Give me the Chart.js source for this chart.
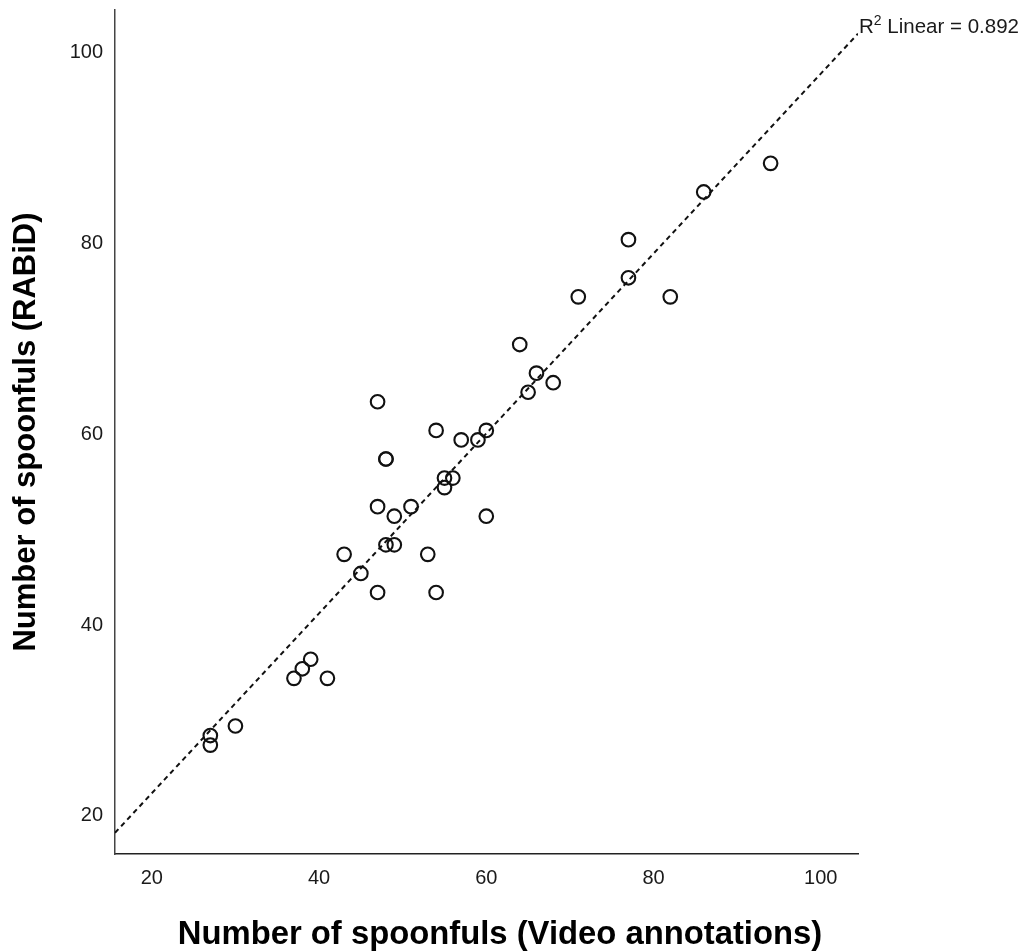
<!DOCTYPE html>
<html>
<head>
<meta charset="utf-8">
<script src="https://cdn.jsdelivr.net/npm/chart.js@4/dist/chart.umd.min.js"></script>
<style>
  html, body { margin: 0; padding: 0; background: #fff; }
  #wrap { width: 1026px; height: 952px; }
</style>
</head>
<body>
<div id="wrap"><canvas id="scatter"></canvas></div>
<script>
// spoonful counts: video annotations (x) vs RABiD (y)
const videoCounts = [94, 86, 77, 77, 71, 82, 64, 66, 68, 65, 47, 54, 60, 57, 59, 48, 48, 55, 56, 55,
                     47, 51, 49, 60, 48, 49, 43, 53, 45, 47, 54, 39, 38, 37, 41, 30, 27, 27];
const rabidCounts = [88, 85, 80, 76, 74, 74, 69, 66, 65, 64, 63, 60, 60, 59, 59, 57, 57, 55, 55, 54,
                     52, 52, 51, 51, 48, 48, 47, 47, 45, 43, 43, 36, 35, 34, 34, 29, 28, 27];

// fit line end points and its R squared
const fitX = [15.6, 104.45];
const fitY = [17.8, 101.6];
const rSquared = "0.892";

const xTicks = [20, 40, 60, 80, 100];
const yTicks = [20, 40, 60, 80, 100];

const xTitle = "Number of spoonfuls (Video annotations)";
const yTitle = "Number of spoonfuls (RABiD)";

const points = videoCounts.map((v, i) => ({ x: v, y: rabidCounts[i] }));
const fitLine = fitX.map((v, i) => ({ x: v, y: fitY[i] }));

const FONT = "'Liberation Sans', Arial, sans-serif";

// R² label at the top end of the fit line, plus the x axis title
const annotations = {
  id: "annotations",
  afterDraw(chart) {
    const ctx = chart.ctx;
    const px = chart.scales.x.getPixelForValue(fitX[1]) + 1;
    const py = chart.scales.y.getPixelForValue(fitY[1]) - 1;
    ctx.save();
    ctx.fillStyle = "#1a1a1a";
    ctx.textBaseline = "alphabetic";
    ctx.textAlign = "left";
    ctx.font = "20.5px " + FONT;
    ctx.fillText("R", px, py);
    const rw = ctx.measureText("R").width;
    ctx.font = "14px " + FONT;
    ctx.fillText("2", px + rw, py - 8);
    const sw = ctx.measureText("2").width;
    ctx.font = "20.5px " + FONT;
    ctx.fillText(" Linear = " + rSquared, px + rw + sw, py);

    ctx.fillStyle = "#000";
    ctx.textAlign = "center";
    ctx.textBaseline = "middle";
    ctx.font = "bold 32.8px " + FONT;
    ctx.fillText(xTitle, 500, 935);
    ctx.restore();
  }
};

new Chart(document.getElementById("scatter"), {
  type: "scatter",
  data: {
    datasets: [
      {
        label: "fit",
        type: "line",
        data: fitLine,
        borderColor: "#111",
        borderWidth: 2,
        borderDash: [5, 4],
        pointRadius: 0,
        fill: false
      },
      {
        label: "spoonfuls",
        data: points,
        pointStyle: "circle",
        pointRadius: 6.8,
        pointHoverRadius: 6.8,
        pointBorderWidth: 2.1,
        borderColor: "#111",
        backgroundColor: "rgba(0,0,0,0)"
      }
    ]
  },
  options: {
    responsive: true,
    maintainAspectRatio: false,
    animation: false,
    layout: { padding: { top: 10, right: 168, left: 0, bottom: 0 } },
    plugins: {
      legend: { display: false },
      tooltip: { enabled: false }
    },
    scales: {
      x: {
        type: "linear",
        min: 15.6,
        max: 104.45,
        afterFit(scale) {
          scale.height = 98;
          scale.paddingLeft = 0;
          scale.paddingRight = 0;
        },
        afterBuildTicks(scale) { scale.ticks = xTicks.map(v => ({ value: v })); },
        grid: { display: false, drawTicks: false },
        border: { display: true, color: "#222", width: 1.5 },
        ticks: {
          includeBounds: false,
          padding: 12,
          color: "#1a1a1a",
          font: { family: FONT, size: 20 }
        },
        title: { display: false }
      },
      y: {
        type: "linear",
        min: 15.58,
        max: 104.08,
        afterFit(scale) {
          scale.width = 115;
          scale.paddingTop = 0;
          scale.paddingBottom = 0;
        },
        afterBuildTicks(scale) { scale.ticks = yTicks.map(v => ({ value: v })); },
        grid: { display: false, drawTicks: false },
        border: { display: true, color: "#444", width: 1.5 },
        ticks: {
          includeBounds: false,
          padding: 12,
          labelOffset: 4,
          color: "#1a1a1a",
          font: { family: FONT, size: 20 }
        },
        title: {
          display: true,
          text: yTitle,
          color: "#000",
          padding: { top: 11, bottom: 0 },
          font: { family: FONT, size: 31, weight: "bold", lineHeight: 1 }
        }
      }
    }
  },
  plugins: [annotations]
});
</script>
</body>
</html>
